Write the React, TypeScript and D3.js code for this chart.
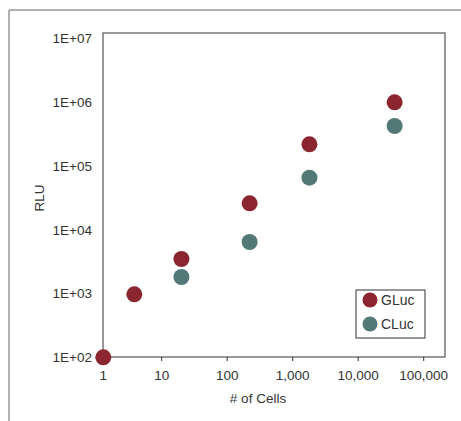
import React from "react";
import * as d3 from "d3";

const xTicks = [1, 10, 100, 1000, 10000, 100000];
const xTickLabels = ["1", "10", "100", "1,000", "10,000", "100,000"];
const yTicks = [1e2, 1e3, 1e4, 1e5, 1e6, 1e7];
const yTickLabels = ["1E+02", "1E+03", "1E+04", "1E+05", "1E+06", "1E+07"];

const glucCells = [1, 3.4, 20, 220, 1800, 36000];
const glucRLU = [100, 970, 3475, 25900, 218000, 993000];
const clucCells = [20, 220, 1800, 36000];
const clucRLU = [1815, 6410, 65300, 422000];

const seriesNames = ["GLuc", "CLuc"];
const seriesColors = ["#8b2630", "#527977"];

export default function App() {
  const W = 461, H = 421;
  const left = 103, right = 445, top = 33, bottom = 357;
  const x = d3.scaleLog().domain([1, 10, 100000]).range([103.3, 161.7, 423.7]);
  const y = d3.scaleLog().domain([1e2, 1e7]).range([357.3, 38.3]);
  const font = "Liberation Sans, Arial, sans-serif";
  const textColor = "#333";
  const r = 8;
  const fs = 13.5;

  return (
    <svg width={W} height={H} style={{ position: "absolute", left: 0, top: 0 }} fontFamily={font}>
      <rect x={0} y={0} width={W} height={H} fill="#fff" />
      {/* outer frame */}
      <line x1={9} y1={10} x2={W} y2={10} stroke="#999" strokeWidth={1.5} />
      <line x1={9} y1={10} x2={9} y2={H} stroke="#999" strokeWidth={1.5} />
      {/* plot box */}
      <rect x={left} y={top} width={right - left} height={bottom - top} fill="none" stroke="#333" strokeWidth={1} />
      {/* x ticks */}
      {xTicks.map((t, i) => (
        <g key={t}>
          <line x1={x(t)} x2={x(t)} y1={bottom} y2={bottom + 4} stroke="#333" strokeWidth={1} />
          <text x={x(t)} y={379.5} textAnchor="middle" fontSize={fs} fill={textColor}>{xTickLabels[i]}</text>
        </g>
      ))}
      {/* y labels */}
      {yTicks.map((t, i) => (
        <text key={t} x={92} y={y(t) + 4.8} textAnchor="end" fontSize={fs} fill={textColor}>{yTickLabels[i]}</text>
      ))}
      <text x={258} y={402.5} textAnchor="middle" fontSize={fs} fill={textColor}># of Cells</text>
      <text transform="translate(43.5,198) rotate(-90)" textAnchor="middle" fontSize={fs} fill={textColor}>RLU</text>
      {/* points */}
      {glucCells.map((c, i) => (
        <circle key={"g" + i} cx={x(c)} cy={y(glucRLU[i])} r={r} fill={seriesColors[0]} />
      ))}
      {clucCells.map((c, i) => (
        <circle key={"c" + i} cx={x(c)} cy={y(clucRLU[i])} r={r} fill={seriesColors[1]} />
      ))}
      {/* legend */}
      <rect x={356} y={290} width={69} height={48} fill="#fff" stroke="#333" strokeWidth={1} />
      {seriesNames.map((n, i) => (
        <g key={n}>
          <circle cx={370} cy={300 + i * 24} r={7.5} fill={seriesColors[i]} />
          <text x={381} y={300 + i * 24 + 5} fontSize={14} fill={textColor}>{n}</text>
        </g>
      ))}
    </svg>
  );
}
